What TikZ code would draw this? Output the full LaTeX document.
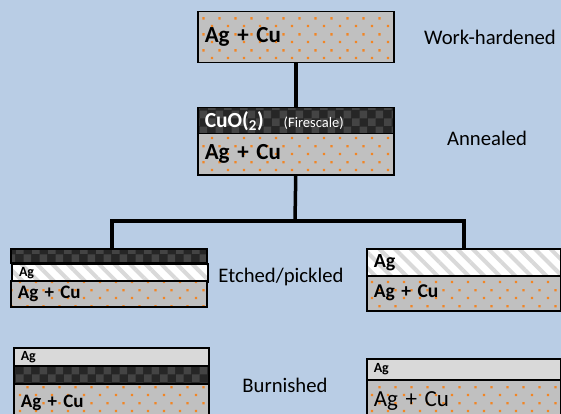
\documentclass[tikz,border=0pt]{standalone}
\usepackage{fontspec}
\setmainfont{Carlito}
\usetikzlibrary{patterns,patterns.meta}

\definecolor{slide}{HTML}{B9CDE5}
\definecolor{alloygray}{HTML}{C0C0C0}
\definecolor{dotorange}{HTML}{F28524}
\definecolor{oxide}{HTML}{262626}
\definecolor{oxidelight}{HTML}{444444}
\definecolor{stripegray}{HTML}{D9D9D9}
\definecolor{burngray}{HTML}{D9D9D9}

% staggered orange dots of the alloy
\tikzdeclarepattern{
  name=sprinkle,
  type=uncolored,
  bottom left={(0pt,0pt)},
  top right={(16pt,16pt)},
  tile size={(16pt,16pt)},
  code={
    \pgfpathrectangle{\pgfpoint{3pt}{3pt}}{\pgfpoint{2.4pt}{2.4pt}}
    \pgfpathrectangle{\pgfpoint{11pt}{11pt}}{\pgfpoint{2.4pt}{2.4pt}}
    \pgfusepath{fill}
  }
}
% checkerboard of the firescale
\tikzdeclarepattern{
  name=checker,
  type=uncolored,
  bottom left={(0pt,0pt)},
  top right={(16pt,16pt)},
  tile size={(16pt,16pt)},
  code={
    \pgfpathrectangle{\pgfpoint{0pt}{0pt}}{\pgfpoint{8pt}{8pt}}
    \pgfpathrectangle{\pgfpoint{8pt}{8pt}}{\pgfpoint{8pt}{8pt}}
    \pgfusepath{fill}
  }
}

\begin{document}
\begin{tikzpicture}[x=1pt,y=-1pt]
        \tikzstyle{layer}=[draw=black,line width=1.5pt,anchor=north west,inner xsep=7pt,inner ysep=0pt,align=left]
        \tikzstyle{alloy}=[layer,preaction={fill=alloygray},pattern=sprinkle,pattern color=dotorange]
        \tikzstyle{firescale}=[layer,preaction={fill=oxide},pattern=checker,pattern color=oxidelight,text=white]
        \tikzstyle{silver}=[layer,preaction={fill=white},pattern={Lines[angle=-45,distance=11pt,line width=4pt]},pattern color=stripegray]
        \tikzstyle{polish}=[layer,fill=burngray]
        \tikzstyle{stage}=[font=\fontsize{20.7}{24}\selectfont]
        \tikzstyle{branch}=[draw,line width=3.5pt]
       \fill[slide] (0,0) rectangle (561,414);
       \useasboundingbox (0,0) rectangle (561,414);
       \clip (0,0) rectangle (561,414);
       \begin{scope}
         % work-hardened
         \node [alloy,text width=182pt,minimum height=51pt,font=\fontsize{23}{26}\selectfont\bfseries] (work) at (197,11) {Ag + Cu};
         \node [stage] (hardlbl) at (490,37) {Work-hardened};
         % annealed
         \node [firescale,text width=182pt,minimum height=26pt] (cuo) at (197,107) {{\fontsize{21.5}{22}\selectfont\bfseries CuO(\textsubscript{2})}\hspace{20pt}{\fontsize{14.5}{15}\selectfont (Firescale)}};
         \node [alloy,text width=182pt,minimum height=41pt,font=\fontsize{23}{26}\selectfont\bfseries] (anneal) at (197,133) {Ag + Cu};
         \node [stage] (anneallbl) at (487,138) {Annealed};
         % etched/pickled
         \node [firescale,text width=182pt,minimum height=14pt] (etchox) at (10,248) {};
         \node [silver,text width=182pt,minimum height=18pt,font=\fontsize{14}{15}\selectfont\bfseries] (etchag) at (10,262) {Ag};
         \node [alloy,text width=182pt,minimum height=26pt,font=\fontsize{19}{21}\selectfont\bfseries] (etchbase) at (10,280) {Ag + Cu};
         \node [stage] (etchlbl) at (281,277) {Etched/pickled};
         \node [silver,text width=180pt,minimum height=27pt,font=\fontsize{20}{22}\selectfont\bfseries] (pickag) at (366,248) {Ag};
         \node [alloy,text width=180pt,minimum height=35pt,font=\fontsize{19.5}{21}\selectfont\bfseries] (pickbase) at (366,275) {Ag + Cu};
         % burnished
         \node [polish,text width=181pt,minimum height=18pt,font=\fontsize{14}{15}\selectfont\bfseries] (burnag) at (13,347) {Ag};
         \node [firescale,text width=181pt,minimum height=18pt] (burnox) at (13,365) {};
         \node [alloy,text width=181pt,minimum height=38pt,font=\fontsize{19}{21}\selectfont\bfseries] (burnbase) at (13,383) {Ag + Cu};
         \node [stage] (burnlbl) at (285,385) {Burnished};
         \node [polish,text width=180pt,minimum height=21pt,font=\fontsize{14}{15}\selectfont\bfseries] (polag) at (366,358) {Ag};
         \node [alloy,text width=180pt,minimum height=42pt,font=\fontsize{23}{25}\selectfont] (polbase) at (366,379) {Ag + Cu};
         % connectors
         \coordinate (fork) at (295,221);
         \path[branch] (work.south) -- (cuo.north);
         \path[branch] (anneal.south) -- (fork);
         \path[branch] ([xshift=3pt]etchox.north) |- (fork) -| (pickag.north);
        \end{scope}
      \end{tikzpicture}
\end{document}
